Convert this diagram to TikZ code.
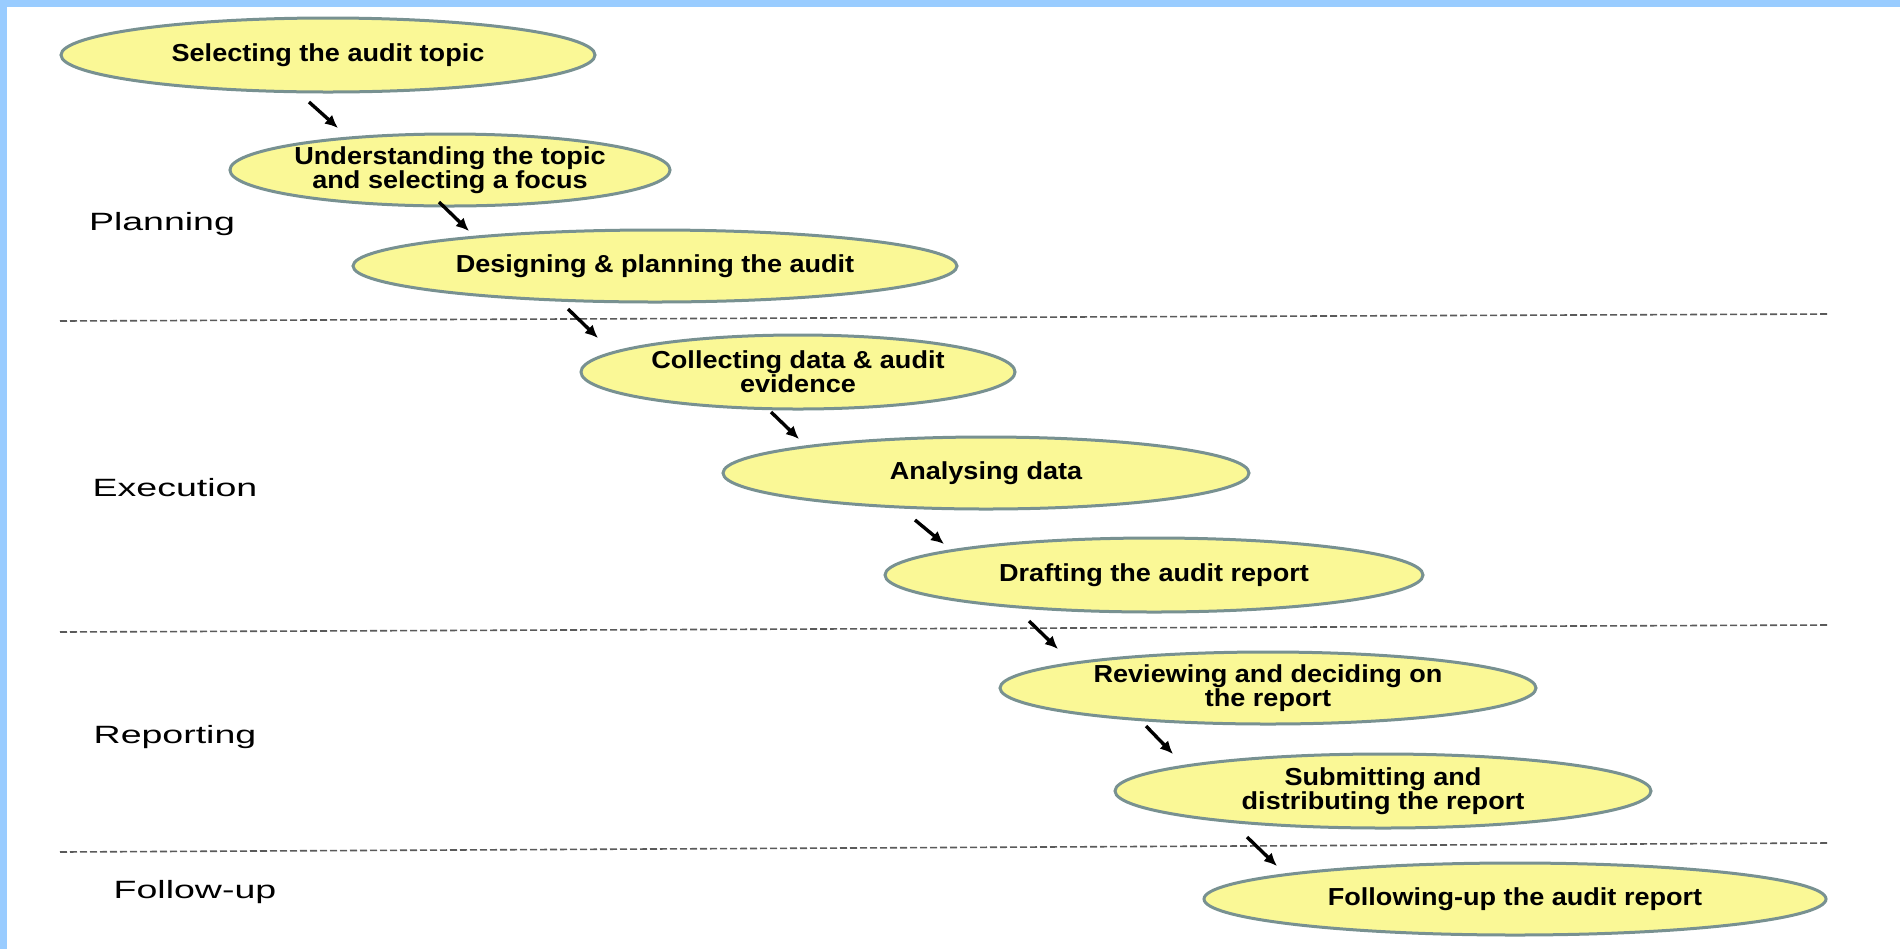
\documentclass[tikz,border=0pt]{standalone}
\usepackage{fontspec}
\setmainfont{Liberation Sans}
\usetikzlibrary{shapes.geometric,arrows.meta}
\definecolor{bandblue}{RGB}{153,204,255}
\definecolor{ellfill}{RGB}{250,248,150}
\definecolor{elldraw}{RGB}{120,145,145}
\definecolor{dashgray}{RGB}{90,90,90}
\newcommand{\sx}[1]{\scalebox{1.1}[1]{#1}}
\newcommand{\lx}[1]{\scalebox{1.5}[1]{#1}}
\tikzset{
 stage/.style={ellipse, draw=elldraw, fill=ellfill, line width=1.5pt, inner sep=0pt, align=center, font=\bfseries\fontsize{12.3}{12}\selectfont},
 phase/.style={font=\fontsize{12.5}{14}\selectfont, inner sep=0pt},
 flow/.style={-{Latex[length=6.5pt,width=6pt]}, line width=1.7pt, black},
 sep/.style={dashgray, line width=0.8pt, dash pattern=on 3.5pt off 1.5pt}
}
\begin{document}
\begin{tikzpicture}[x=0.5pt,y=-0.5pt]
\useasboundingbox (0,0) rectangle (1900,949);
\fill[white] (0,0) rectangle (1900,949);
\fill[bandblue] (0,0) rectangle (1900,7);
\fill[bandblue] (0,0) rectangle (7,949);

% separators
\coordinate (d1a) at (60,321); \coordinate (d1b) at (1827,314);
\coordinate (d2a) at (60,632); \coordinate (d2b) at (1827,625);
\coordinate (d3a) at (60,852); \coordinate (d3b) at (1827,843);
\draw[sep] (d1a) -- (d1b);
\draw[sep] (d2a) -- (d2b);
\draw[sep] (d3a) -- (d3b);

% stages
\node[stage, minimum width=267pt, minimum height=37pt] (s1) at (328,55) {\sx{Selecting the audit topic}};
\node[stage, minimum width=216pt, minimum height=36pt] (s2) at (450,170) {\sx{Understanding the topic}\\\sx{and selecting  a focus}};
\node[stage, minimum width=302pt, minimum height=36pt] (s3) at (655,266) {\sx{Designing \& planning the audit}};
\node[stage, minimum width=217pt, minimum height=37pt] (s4) at (798,372) {\sx{Collecting data \& audit}\\\sx{evidence}};
\node[stage, minimum width=263pt, minimum height=36pt] (s5) at (986,473) {\sx{Analysing data}};
\node[stage, minimum width=269pt, minimum height=37pt] (s6) at (1154,575) {\sx{Drafting the audit report}};
\node[stage, minimum width=268pt, minimum height=36pt] (s7) at (1268,688) {\sx{Reviewing and deciding on}\\\sx{the report}};
\node[stage, minimum width=268pt, minimum height=37pt] (s8) at (1383,791) {\sx{Submitting and}\\\sx{distributing the report}};
\node[stage, minimum width=311pt, minimum height=36pt] (s9) at (1515,899) {\sx{Following-up the audit report}};

% phase labels
\node[phase] (p1) at (162,224) {\lx{Planning}};
\node[phase] (p2) at (175,488) {\lx{Execution}};
\node[phase] (p3) at (175,737) {\lx{Reporting}};
\node[phase] (p4) at (195,892) {\lx{Follow-up}};

% arrows
\coordinate (a1s) at (309,102); \coordinate (a1e) at (338,128);
\coordinate (a2s) at (439,202); \coordinate (a2e) at (469,231);
\coordinate (a3s) at (568,309); \coordinate (a3e) at (598,338);
\coordinate (a4s) at (771,412); \coordinate (a4e) at (799,439);
\coordinate (a5s) at (915,520); \coordinate (a5e) at (944,544);
\coordinate (a6s) at (1029,621); \coordinate (a6e) at (1058,649);
\coordinate (a7s) at (1146,726); \coordinate (a7e) at (1173,754);
\coordinate (a8s) at (1247,837); \coordinate (a8e) at (1277,866);
\foreach \i in {1,...,8} { \draw[flow] (a\i s) -- (a\i e); }
\end{tikzpicture}
\end{document}
